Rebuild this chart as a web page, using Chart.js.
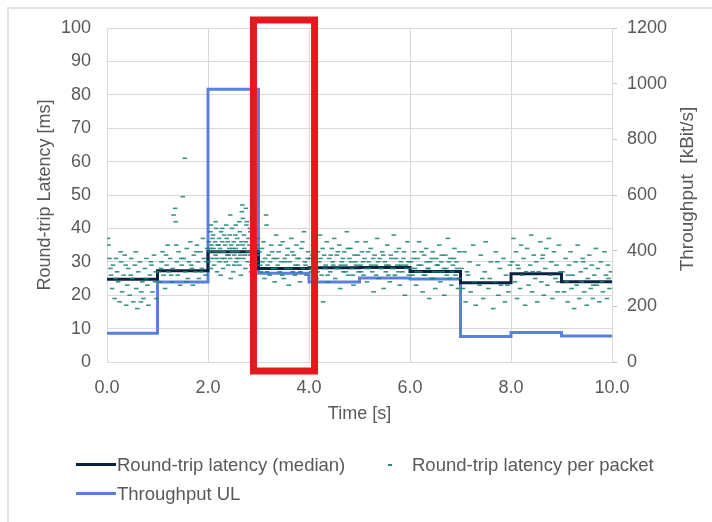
<!DOCTYPE html>
<html lang="en">
<head>
    <meta charset="UTF-8">
    <title>Round-trip latency and throughput</title>
    <script src="https://cdn.jsdelivr.net/npm/chart.js"></script>
    <style>
        body { margin: 0; background: #fff; font-family: "Liberation Sans", Arial, sans-serif; }
        #wrap { position: relative; width: 712px; height: 522px; overflow: hidden; }
        #frame { position: absolute; left: 7px; top: 7px; right: -5px; bottom: -5px;
                 border-top: 2px solid #e2e2e2; border-left: 2px solid #e2e2e2; }
        canvas { position: absolute; left: 0; top: 0; }
        .leg { position: absolute; font-size: 18.5px; color: #595959; line-height: 20px; white-space: nowrap; }
        .swatch { position: absolute; height: 3px; }
    </style>
</head>
<body>
<div id="wrap">
    <div id="frame"></div>
    <canvas id="myChart" width="712" height="522"></canvas>

    <div class="swatch" style="left:76px; top:463px; width:40px; background:#0d2240;"></div>
    <div class="leg" style="left:117px; top:455px;">Round-trip latency (median)</div>
    <div class="swatch" style="left:388px; top:464px; width:4px; height:2px; background:#2a8a7a;"></div>
    <div class="leg" style="left:412px; top:455px;">Round-trip latency per packet</div>
    <div class="swatch" style="left:76px; top:492px; width:40px; background:#5b80dc;"></div>
    <div class="leg" style="left:117px; top:484px;">Throughput UL</div>
</div>

<script>
    // step boundaries (s); value i holds for [i, i+1], last one repeated at 10 s
    const stepTimes = [0, 1, 2, 3, 4, 5, 6, 7, 8, 9, 10];
    const medianLatency = [24.8, 27.3, 33, 28.0, 28.2, 28.3, 27.1, 23.7, 26.4, 24.0, 24.0];   // ms
    const throughputUL = [103, 287, 980, 319, 287, 302, 298, 92, 106, 93, 93];             // kBit/s

    // per-packet latency samples [time s, latency ms]
    const packetPoints = [
        [0.02,37],[0.03,35],[0.05,31],[0.08,26],[0.1,22],[0.12,29],[0.15,19],[0.18,31],[0.2,27],[0.22,24],
        [0.25,18],[0.28,30],[0.3,21],[0.33,26],[0.35,32],[0.38,17],[0.4,23],[0.42,28],[0.45,20],[0.48,31],
        [0.5,25],[0.52,18],[0.55,29],[0.58,22],[0.6,16],[0.62,27],[0.65,30],[0.68,21],[0.7,24],[0.72,19],
        [0.75,28],[0.78,31],[0.8,23],[0.82,17],[0.85,26],[0.88,29],[0.9,21],[0.93,32],[0.95,24],[0.98,19],
        [0.07,28],[0.17,25],[0.27,33],[0.37,29],[0.47,26],[0.57,33],[0.67,18],[0.77,25],[0.87,30],[0.97,27],
        [1.02,27],[1.05,24],[1.08,30],[1.1,33],[1.12,26],[1.15,22],[1.18,29],[1.2,35],[1.22,27],[1.25,31],
        [1.28,24],[1.3,28],[1.32,44],[1.35,46],[1.36,42],[1.38,30],[1.4,26],[1.42,33],[1.45,23],[1.48,29],
        [1.5,49.5],[1.52,31],[1.54,61],[1.55,27],[1.58,34],[1.6,25],[1.62,30],[1.65,36],[1.68,28],[1.7,23],
        [1.72,32],[1.75,27],[1.78,35],[1.8,30],[1.82,25],[1.85,33],[1.88,28],[1.9,37],[1.92,31],[1.95,26],[1.98,34],
        [1.07,28],[1.17,32],[1.27,26],[1.37,35],[1.47,31],[1.57,24],[1.67,29],[1.77,33],[1.87,27],[1.97,30],
        [2.01,30],[2.02,36],[2.03,33],[2.05,39],[2.06,28],[2.07,35],[2.08,31],[2.1,38],[2.11,34],[2.12,29],
        [2.14,36],[2.15,32],[2.16,40],[2.18,27],[2.19,35],[2.2,33],[2.22,37],[2.23,30],[2.24,34],[2.26,39],
        [2.27,31],[2.28,36],[2.3,28],[2.31,33],[2.32,38],[2.34,35],[2.35,30],[2.36,41],[2.38,32],[2.39,36],
        [2.4,29],[2.42,34],[2.43,38],[2.44,31],[2.46,35],[2.47,33],[2.48,40],[2.5,27],[2.51,36],[2.52,32],
        [2.54,38],[2.55,34],[2.56,30],[2.58,37],[2.59,33],[2.6,35],[2.62,29],[2.63,39],[2.64,32],[2.66,36],
        [2.67,45],[2.68,47],[2.69,43],[2.7,31],[2.71,38],[2.72,34],[2.74,28],[2.75,36],[2.76,41],[2.78,33],
        [2.79,30],[2.8,37],[2.82,35],[2.83,32],[2.84,39],[2.86,29],[2.87,34],[2.88,38],[2.9,31],[2.91,36],
        [2.92,33],[2.94,40],[2.95,30],[2.96,35],[2.98,32],[2.99,37],[2.25,26],[2.45,25],[2.65,26],[2.85,27],
        [2.15,42],[2.55,41],[2.77,42],[2.33,31],[2.53,33],[2.73,32],[2.93,34],[2.13,33],[2.41,32],[2.61,31],
        [2.04,34],[2.09,37],[2.17,31],[2.21,35],[2.29,33],[2.37,37],[2.49,34],[2.57,31],[2.69,35],[2.81,33],
        [2.89,36],[2.97,34],[2.06,41],[2.44,44],[2.62,42],[2.75,46],[2.83,40],[2.52,29],[2.28,40],[2.9,28],
        [3.02,33],[3.05,27],[3.08,30],[3.1,36],[3.12,25],[3.15,44],[3.16,41],[3.18,29],[3.2,32],[3.22,26],
        [3.25,35],[3.28,28],[3.3,31],[3.32,24],[3.35,38],[3.38,29],[3.4,33],[3.42,27],[3.45,30],[3.48,36],
        [3.5,25],[3.52,31],[3.55,28],[3.58,34],[3.6,23],[3.62,30],[3.65,37],[3.68,27],[3.7,32],[3.72,26],
        [3.75,35],[3.78,29],[3.8,31],[3.82,24],[3.85,34],[3.88,28],[3.9,39],[3.92,30],[3.95,26],[3.98,33],
        [3.03,29],[3.07,34],[3.13,31],[3.17,27],[3.23,30],[3.27,33],[3.33,28],[3.37,31],[3.43,35],[3.47,26],
        [3.53,30],[3.57,32],[3.63,28],[3.67,33],[3.73,29],[3.77,31],[3.83,27],[3.87,36],[3.93,29],[3.97,31],
        [4.02,31],[4.05,27],[4.08,35],[4.1,43],[4.12,29],[4.15,25],[4.18,33],[4.2,30],[4.22,38],[4.25,26],
        [4.28,18],[4.3,32],[4.32,28],[4.35,36],[4.38,24],[4.4,31],[4.42,27],[4.45,34],[4.48,29],[4.5,37],
        [4.52,25],[4.55,32],[4.58,28],[4.6,35],[4.62,22],[4.65,30],[4.68,27],[4.7,33],[4.72,29],[4.75,39],
        [4.78,26],[4.8,31],[4.82,34],[4.85,28],[4.88,23],[4.9,32],[4.92,30],[4.95,36],[4.98,27],
        [4.03,28],[4.07,32],[4.13,30],[4.17,27],[4.23,31],[4.27,34],[4.33,29],[4.37,26],[4.43,32],[4.47,30],
        [4.53,28],[4.57,33],[4.63,29],[4.67,31],[4.73,27],[4.77,34],[4.83,30],[4.87,26],[4.93,29],[4.97,32],
        [5.02,29],[5.05,33],[5.08,26],[5.1,31],[5.12,36],[5.15,24],[5.18,30],[5.2,28],[5.22,34],[5.25,27],
        [5.28,21],[5.3,32],[5.32,29],[5.35,37],[5.38,25],[5.4,31],[5.42,28],[5.45,33],[5.48,22],[5.5,30],
        [5.52,27],[5.55,35],[5.58,29],[5.6,24],[5.62,32],[5.65,28],[5.68,38],[5.7,26],[5.72,31],[5.75,29],
        [5.78,34],[5.8,23],[5.82,30],[5.85,27],[5.88,33],[5.9,20],[5.92,29],[5.95,36],[5.98,26],
        [5.03,27],[5.07,30],[5.13,28],[5.17,33],[5.23,29],[5.27,31],[5.33,26],[5.37,30],[5.43,28],[5.47,32],
        [5.53,29],[5.57,26],[5.63,31],[5.67,28],[5.73,33],[5.77,27],[5.83,29],[5.87,31],[5.93,28],[5.97,30],
        [6.02,30],[6.05,26],[6.08,33],[6.1,28],[6.12,23],[6.15,31],[6.18,36],[6.2,27],[6.22,29],[6.25,21],
        [6.28,32],[6.3,26],[6.32,34],[6.35,28],[6.38,19],[6.4,30],[6.42,25],[6.45,33],[6.48,27],[6.5,22],
        [6.52,31],[6.55,29],[6.58,35],[6.6,24],[6.62,30],[6.65,27],[6.68,20],[6.7,32],[6.72,28],[6.75,37],
        [6.78,25],[6.8,31],[6.82,23],[6.85,29],[6.88,34],[6.9,26],[6.92,30],[6.95,22],[6.98,33],
        [6.03,28],[6.07,31],[6.13,27],[6.17,29],[6.23,33],[6.27,26],[6.33,30],[6.37,28],[6.43,31],[6.47,25],
        [6.53,29],[6.57,27],[6.63,32],[6.67,28],[6.73,26],[6.77,30],[6.83,27],[6.87,31],[6.93,28],[6.97,25],
        [7.02,28],[7.05,22],[7.08,33],[7.1,18],[7.15,26],[7.18,30],[7.2,21],[7.25,35],[7.28,24],[7.3,17],
        [7.35,29],[7.38,23],[7.4,32],[7.45,19],[7.48,27],[7.5,36],[7.55,22],[7.58,25],[7.6,30],[7.65,16],
        [7.68,24],[7.7,33],[7.75,20],[7.78,28],[7.8,23],[7.85,31],[7.88,18],[7.9,26],[7.95,21],[7.98,29],
        [7.13,27],[7.43,25],[7.73,30],[7.93,23],
        [8.02,30],[8.05,37],[8.08,24],[8.1,33],[8.12,19],[8.15,28],[8.18,22],[8.2,35],[8.22,26],[8.25,31],
        [8.28,17],[8.3,27],[8.32,34],[8.35,23],[8.38,29],[8.4,38],[8.42,21],[8.45,32],[8.48,25],[8.5,30],
        [8.52,18],[8.55,27],[8.58,36],[8.6,24],[8.62,31],[8.65,20],[8.68,28],[8.7,34],[8.72,23],[8.75,37],
        [8.78,26],[8.8,30],[8.82,19],[8.85,33],[8.88,25],[8.9,29],[8.92,21],[8.95,35],[8.98,27],
        [8.13,29],[8.43,27],[8.63,32],[8.93,24],
        [9.02,27],[9.05,21],[9.08,31],[9.1,24],[9.12,18],[9.15,29],[9.18,33],[9.2,22],[9.22,26],[9.25,16],
        [9.28,30],[9.3,23],[9.32,35],[9.35,19],[9.38,27],[9.4,24],[9.42,31],[9.45,21],[9.48,28],[9.5,17],
        [9.52,25],[9.55,32],[9.58,22],[9.6,29],[9.62,19],[9.65,26],[9.68,34],[9.7,23],[9.72,28],[9.75,18],
        [9.78,30],[9.8,24],[9.82,21],[9.85,33],[9.88,26],[9.9,19],[9.92,29],[9.95,22],[9.98,27],
        [9.13,26],[9.43,30],[9.63,23],[9.93,25]
    ];

    // highlighted window (red box), in data units of x / left y axis
    const highlightTime = [2.9, 4.11];
    const highlightLatency = [-2.7, 102.4];

    const tickFont = { family: '"Liberation Sans", Arial, sans-serif', size: 18 };
    const textColor = '#595959';
    const gridColor = '#d9d9d9';

    // red box on top of the plot
    const highlightBox = {
        id: 'highlightBox',
        afterDraw(chart) {
            const { ctx, scales } = chart;
            const x1 = scales.x.getPixelForValue(highlightTime[0]);
            const x2 = scales.x.getPixelForValue(highlightTime[1]);
            const y1 = scales.y.getPixelForValue(highlightLatency[1]);
            const y2 = scales.y.getPixelForValue(highlightLatency[0]);
            ctx.save();
            ctx.strokeStyle = '#e3191f';
            ctx.lineWidth = 7;
            ctx.strokeRect(x1, y1, x2 - x1, y2 - y1);
            ctx.restore();
        }
    };

    // right axis title reads bottom-to-top like the left one
    const rightTitle = {
        id: 'rightTitle',
        afterDraw(chart) {
            const { ctx, chartArea } = chart;
            ctx.save();
            ctx.translate(688, (chartArea.top + chartArea.bottom) / 2 - 6);
            ctx.rotate(-Math.PI / 2);
            ctx.font = '19px "Liberation Sans", Arial, sans-serif';
            ctx.fillStyle = textColor;
            ctx.textAlign = 'center';
            ctx.textBaseline = 'middle';
            ctx.fillText('Throughput  [kBit/s]', 0, 0);
            ctx.restore();
        }
    };

    const ctx = document.getElementById('myChart').getContext('2d');
    new Chart(ctx, {
        type: 'scatter',
        data: {
            datasets: [{
                label: 'Round-trip latency per packet',
                data: packetPoints.map(p => ({ x: p[0], y: p[1] })),
                yAxisID: 'y',
                pointStyle: 'line',
                pointRadius: 2.3,
                borderWidth: 1.6,
                borderColor: 'rgba(25, 128, 112, 0.85)',
                backgroundColor: 'rgba(25, 128, 112, 0.85)',
                order: 1
            },
            {
                label: 'Round-trip latency (median)',
                type: 'line',
                data: stepTimes.map((t, i) => ({ x: t, y: medianLatency[i] })),
                yAxisID: 'y',
                borderColor: '#0d2240',
                borderWidth: 3,
                pointRadius: 0,
                stepped: 'before',
                fill: false,
                order: 2
            },
            {
                label: 'Throughput UL',
                type: 'line',
                data: stepTimes.map((t, i) => ({ x: t, y: throughputUL[i] })),
                yAxisID: 'y2',
                borderColor: '#5b80dc',
                borderWidth: 3,
                pointRadius: 0,
                stepped: 'before',
                fill: false,
                order: 3
            }]
        },
        options: {
            responsive: false,
            animation: false,
            layout: { padding: { left: 30, right: 10, top: 28, bottom: 93 } },
            plugins: {
                legend: { display: false },
                tooltip: { enabled: false }
            },
            scales: {
                x: {
                    type: 'linear',
                    min: 0, max: 10,
                    grid: { color: gridColor, drawTicks: false },
                    border: { color: gridColor },
                    ticks: {
                        stepSize: 2,
                        padding: 15,
                        color: textColor,
                        font: tickFont,
                        callback: v => v.toFixed(1)
                    },
                    title: { display: true, text: 'Time [s]', color: textColor, font: tickFont },
                    afterFit: s => { s.height = 67; }
                },
                y: {
                    position: 'left',
                    min: 0, max: 100,
                    grid: { color: gridColor, drawTicks: false },
                    border: { color: gridColor },
                    ticks: { stepSize: 10, padding: 16, color: textColor, font: tickFont },
                    title: { display: true, text: 'Round-trip Latency [ms]', color: textColor, font: tickFont },
                    afterFit: s => { s.width = 77; }
                },
                y2: {
                    position: 'right',
                    min: 0, max: 1200,
                    grid: { drawOnChartArea: false, drawTicks: true, tickLength: 5, color: '#bfbfbf' },
                    border: { display: true, color: gridColor },
                    ticks: { stepSize: 200, padding: 10, color: textColor, font: tickFont, callback: v => String(v) },
                    afterFit: s => { s.width = 90; }
                }
            }
        },
        plugins: [highlightBox, rightTitle]
    });
</script>
</body>
</html>
